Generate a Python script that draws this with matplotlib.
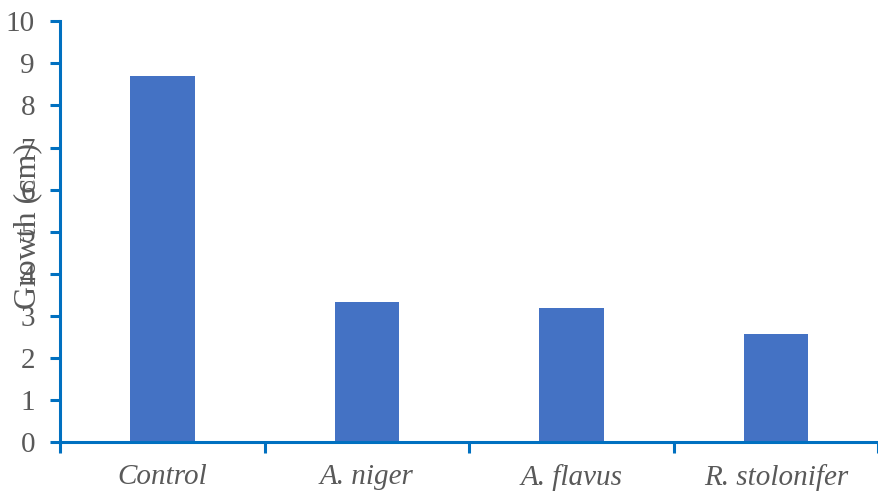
import numpy as np
from matplotlib import pyplot as plt

categories = ["Control", "A. niger", "A. flavus", "R. stolonifer"]
growth = [8.7, 3.33, 3.19, 2.57]
yticks = list(range(0, 11))

if __name__ == "__main__":
    plt.rcParams['font.family'] = ['Liberation Serif', 'DejaVu Serif']
    text_color = "#595959"
    axis_color = "#0070C0"

    fig = plt.figure(figsize=(8.79, 4.92), dpi=100)
    ax = fig.add_axes([0.0683, 0.1016, 0.931, 0.855])

    x = np.arange(len(categories))
    ax.bar(x, growth, width=0.315, color="#4472C4")

    ax.set_xlim(-0.5, len(categories) - 0.5)
    ax.set_ylim(0, 10)
    ax.set_yticks(yticks)
    ax.set_yticklabels([str(t) for t in yticks])

    # ticks between categories, labels centred under bars
    ax.set_xticks(np.arange(-0.5, len(categories), 1.0))
    ax.set_xticklabels([])
    ax.set_xticks(x, minor=True)
    ax.set_xticklabels(categories, minor=True, style="italic")
    ax.tick_params(axis="x", which="major", direction="out", length=8,
                   width=2.2, color=axis_color)
    ax.tick_params(axis="x", which="minor", length=0, pad=16,
                   labelsize=21, labelcolor=text_color)
    ax.tick_params(axis="y", direction="out", length=7, width=2.2,
                   color=axis_color, labelsize=21, labelcolor=text_color, pad=11)

    for side in ["top", "right"]:
        ax.spines[side].set_visible(False)
    for side in ["left", "bottom"]:
        ax.spines[side].set_color(axis_color)
        ax.spines[side].set_linewidth(2.2)

    ax.set_ylabel("Growth (cm)", fontsize=23, color=text_color)
    ax.yaxis.set_label_coords(-0.022, 0.513)

    plt.savefig("out.png", dpi=100)
